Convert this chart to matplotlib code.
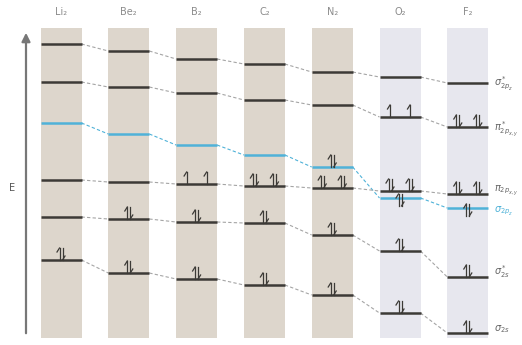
import matplotlib
matplotlib.use('Agg')
import matplotlib.pyplot as plt
import numpy as np

# molecules (columns)
molecules = ['Li₂', 'Be₂', 'B₂', 'C₂', 'N₂', 'O₂', 'F₂']

# level heights (pixels from top, smaller = higher energy)
sigma_star_2p = [44, 51, 59, 64, 72, 77, 83]
pi_star_2p = [82, 87, 93, 100, 105, 117, 127]
sigma_2p = [123, 134, 145, 155, 167, 198, 208]
pi_2p = [180, 182, 184, 186, 188, 191, 194]
sigma_star_2s = [217, 219, 222, 223, 235, 251, 277]
sigma_2s = [260, 273, 279, 285, 295, 313, 333]

# electrons in each level
occ_sigma_star_2p = [0, 0, 0, 0, 0, 0, 0]
occ_pi_star_2p = [0, 0, 0, 0, 0, 2, 4]
occ_sigma_2p = [0, 0, 0, 0, 2, 2, 2]
occ_pi_2p = [0, 0, 2, 4, 4, 4, 4]
occ_sigma_star_2s = [0, 2, 2, 2, 2, 2, 2]
occ_sigma_2s = [2, 2, 2, 2, 2, 2, 2]

level_labels = [r'$\sigma^*_{2p_z}$', r'$\pi^*_{2p_{x,y}}$', r'$\sigma_{2p_z}$',
                r'$\pi_{2p_{x,y}}$', r'$\sigma^*_{2s}$', r'$\sigma_{2s}$']

levels = [sigma_star_2p, pi_star_2p, sigma_2p, pi_2p, sigma_star_2s, sigma_2s]
occs = [occ_sigma_star_2p, occ_pi_star_2p, occ_sigma_2p, occ_pi_2p, occ_sigma_star_2s, occ_sigma_2s]
degen = [1, 2, 1, 2, 1, 1]

blue = '#4fb2d8'
dark = '#3c3a36'
grey = '#8c8c8c'

fig = plt.figure(figsize=(5.22, 3.45), dpi=100)
ax = fig.add_axes([0, 0, 1, 1])
ax.set_xlim(0, 522)
ax.set_ylim(345, 0)
ax.axis('off')

xs = 61 + 67.8 * np.arange(len(molecules))
hw = 20.5
col_colors = ['#ddd6cc'] * 5 + ['#e7e7ee'] * 2
ax.bar(xs, 310, bottom=28, width=2 * hw, color=col_colors, zorder=0)

for x, name in zip(xs, molecules):
    ax.text(x, 12, name, ha='center', va='center', fontsize=7, color=grey)


def electron(x, base, up):
    h = 12
    if up:
        ax.plot([x, x], [base, base - h], color=dark, lw=0.9, zorder=4)
        ax.plot([x, x - 2.5], [base - h, base - h + 4], color=dark, lw=0.9, zorder=4)
    else:
        ax.plot([x, x], [base - h, base], color=dark, lw=0.9, zorder=4)
        ax.plot([x, x + 2.5], [base, base - 4], color=dark, lw=0.9, zorder=4)


for k, (lev, occ, g) in enumerate(zip(levels, occs, degen)):
    c = blue if k == 2 else dark
    for i, x in enumerate(xs):
        y = lev[i]
        ax.plot([x - hw, x + hw], [y, y], color=c, lw=1.8, zorder=3, solid_capstyle='butt')
        if i < len(xs) - 1:
            ax.plot([x + hw, xs[i + 1] - hw], [y, lev[i + 1]], color=blue if k == 2 else '#a5a5a5',
                    lw=0.8, ls=(0, (3, 2)), zorder=2)
        n = occ[i]
        if n == 0:
            continue
        slots = [x] if g == 1 else [x - 10, x + 10]
        base = y
        if k == 2 and y > pi_2p[i]:
            base = y + 8
        for s, sx in enumerate(slots):
            ne = n // g if n >= g else (1 if s < n else 0)
            if n == g:
                ne = 1
            if ne == 1:
                electron(sx, base, True)
            elif ne == 2:
                electron(sx - 1.5, base, True)
                electron(sx + 1.5, base, False)

# right-hand labels
label_y = [sigma_star_2p[-1], pi_star_2p[-1] + 2, sigma_2p[-1] + 3,
           pi_2p[-1] - 3, sigma_star_2s[-1] - 5, sigma_2s[-1] - 4]
for k, (lab, ly) in enumerate(zip(level_labels, label_y)):
    ax.text(494, ly, lab, ha='left', va='center', fontsize=7,
            color=blue if k == 2 else '#666666')

# energy axis
ax.annotate('', xy=(26, 30), xytext=(26, 336),
            arrowprops=dict(arrowstyle='-|>,head_width=0.25,head_length=0.5', color='#777777', lw=1.6))
ax.text(12, 188, 'E', ha='center', va='center', fontsize=7, color='#555555')

fig.savefig('out.png', dpi=100)
